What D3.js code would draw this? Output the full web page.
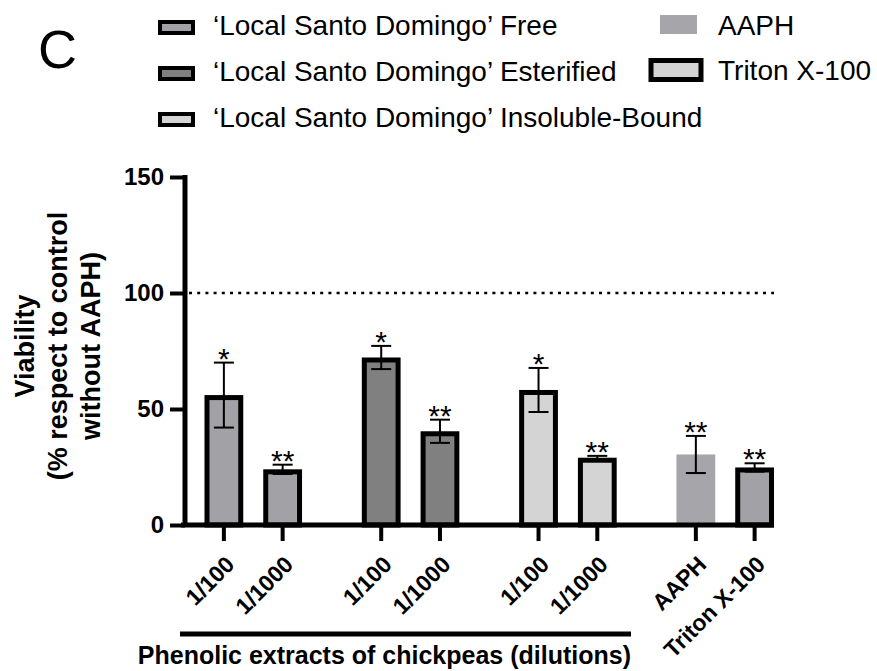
<!DOCTYPE html>
<html>
<head>
<meta charset="utf-8">
<script src="https://cdn.jsdelivr.net/npm/d3@7"></script>
<style>
  body { margin: 0; background: #fff; }
  text { font-family: "Liberation Sans", Arial, Helvetica, sans-serif; }
</style>
</head>
<body>
<div id="chart"></div>
<script>
// data
var groups = ["Free", "Esterified", "Insoluble-Bound", "Controls"];
var slots = ["a", "b"];
var barLabels = ["1/100", "1/1000", "1/100", "1/1000", "1/100", "1/1000", "AAPH", "Triton X-100"];
var barGroup = ["Free", "Free", "Esterified", "Esterified", "Insoluble-Bound", "Insoluble-Bound", "Controls", "Controls"];
var barSlot = ["a", "b", "a", "b", "a", "b", "a", "b"];
var viability = [56, 24, 72.2, 40.4, 58.2, 29, 30.4, 24.8];
var errorSD = [14, 2, 5, 5, 9.5, 0.8, 8, 1.8];
var signif = ["*", "**", "*", "**", "*", "**", "**", "**"];
var yTickValues = [0, 50, 100, 150];
var legendLeft = ["\u2018Local Santo Domingo\u2019 Free", "\u2018Local Santo Domingo\u2019 Esterified", "\u2018Local Santo Domingo\u2019 Insoluble-Bound"];
var legendRight = ["AAPH", "Triton X-100"];
var yTitle = ["Viability", "(% respect to control", "without AAPH)"];

// colours
var fills = ["#a2a2a6", "#a2a2a6", "#808080", "#808080", "#d4d4d4", "#d4d4d4", "#a6a6aa", "#a2a2a6"];
var outlined = [true, true, true, true, true, true, false, true];
var legendLeftFill = ["#a2a2a6", "#808080", "#d4d4d4"];
var legendRightFill = ["#a6a6aa", "#d4d4d4"];

var width = 877, height = 671;
var svg = d3.select("#chart").append("svg")
    .attr("width", width)
    .attr("height", height);

var axisX = 185;     // y axis position
var y = d3.scaleLinear().domain([0, 150]).range([525, 177]);

// group scale and slot scale inside each group
var x0 = d3.scaleBand().domain(groups).range([194.5, 784]).paddingInner(0.253).paddingOuter(0);
var x1 = d3.scaleBand().domain(slots).range([0, x0.bandwidth()]).paddingInner(0.34).paddingOuter(0.17);
var bw = x1.bandwidth();
var sw = 5; // bar outline width

var bars = barLabels.map(function(d, i) {
    return {
        label: d, v: viability[i], e: errorSD[i], s: signif[i],
        fill: fills[i], outline: outlined[i],
        x: x0(barGroup[i]) + x1(barSlot[i])
    };
});

// dotted reference line at 100
svg.append("line")
    .attr("x1", axisX + 4).attr("x2", bars[7].x + bw)
    .attr("y1", y(100)).attr("y2", y(100))
    .attr("stroke", "#000")
    .attr("stroke-width", 2.5)
    .attr("stroke-dasharray", "3,5.2");

// bars
svg.selectAll(".bar")
    .data(bars)
    .enter()
    .append("rect")
    .attr("class", "bar")
    .attr("x", function(d) { return d.outline ? d.x + sw / 2 : d.x; })
    .attr("y", function(d) { return d.outline ? y(d.v) + sw / 2 : y(d.v); })
    .attr("width", function(d) { return d.outline ? bw - sw : bw; })
    .attr("height", function(d) { return y(0) - y(d.v) - (d.outline ? sw / 2 : 0); })
    .attr("fill", function(d) { return d.fill; })
    .attr("stroke", function(d) { return d.outline ? "#000" : "none"; })
    .attr("stroke-width", sw);

// error bars
var eb = svg.selectAll(".err")
    .data(bars)
    .enter()
    .append("g")
    .attr("class", "err")
    .attr("stroke", "#000")
    .attr("stroke-width", 2);

eb.append("line")
    .attr("x1", function(d) { return d.x + bw / 2; })
    .attr("x2", function(d) { return d.x + bw / 2; })
    .attr("y1", function(d) { return y(d.v + d.e); })
    .attr("y2", function(d) { return y(d.v - d.e); });

eb.append("line")
    .attr("x1", function(d) { return d.x + bw / 2 - 10; })
    .attr("x2", function(d) { return d.x + bw / 2 + 10; })
    .attr("y1", function(d) { return y(d.v + d.e); })
    .attr("y2", function(d) { return y(d.v + d.e); });

eb.append("line")
    .attr("x1", function(d) { return d.x + bw / 2 - 10; })
    .attr("x2", function(d) { return d.x + bw / 2 + 10; })
    .attr("y1", function(d) { return y(d.v - d.e); })
    .attr("y2", function(d) { return y(d.v - d.e); });

// significance stars
svg.selectAll(".star")
    .data(bars)
    .enter()
    .append("text")
    .attr("class", "star")
    .attr("x", function(d) { return d.x + bw / 2; })
    .attr("y", function(d) { return y(d.v + d.e) + 6; })
    .attr("text-anchor", "middle")
    .style("font-size", "30px")
    .text(function(d) { return d.s; });

// y axis
var yAxis = d3.axisLeft(y)
    .tickValues(yTickValues)
    .tickSize(15)
    .tickPadding(6)
    .tickFormat(d3.format("d"));

var gy = svg.append("g")
    .attr("transform", "translate(" + axisX + ",0)")
    .call(yAxis);
gy.select(".domain").remove();
gy.selectAll(".tick line").attr("stroke", "#000").attr("stroke-width", 4);
gy.selectAll(".tick text")
    .style("font-size", "24px")
    .style("font-weight", "bold")
    .attr("fill", "#000");
gy.append("line")
    .attr("x1", 0).attr("x2", 0)
    .attr("y1", y(150) - 2).attr("y2", y(0) + 2)
    .attr("stroke", "#000")
    .attr("stroke-width", 5);

// x axis
svg.append("line")
    .attr("x1", axisX - 4).attr("x2", bars[7].x + bw)
    .attr("y1", y(0)).attr("y2", y(0))
    .attr("stroke", "#000")
    .attr("stroke-width", 5);

svg.selectAll(".xtick")
    .data(bars)
    .enter()
    .append("line")
    .attr("class", "xtick")
    .attr("x1", function(d) { return d.x + bw / 2; })
    .attr("x2", function(d) { return d.x + bw / 2; })
    .attr("y1", y(0))
    .attr("y2", y(0) + 16)
    .attr("stroke", "#000")
    .attr("stroke-width", 4);

svg.selectAll(".xlabel")
    .data(bars)
    .enter()
    .append("text")
    .attr("class", "xlabel")
    .attr("transform", function(d) {
        return "translate(" + (d.x + bw / 2 + 12) + "," + (y(0) + 41) + ") rotate(-45)";
    })
    .attr("text-anchor", "end")
    .style("font-size", "23px")
    .style("font-weight", "bold")
    .text(function(d) { return d.label; });

// bracket under the extract groups
svg.append("line")
    .attr("x1", 180).attr("x2", 631)
    .attr("y1", 634).attr("y2", 634)
    .attr("stroke", "#000")
    .attr("stroke-width", 5);

svg.append("text")
    .attr("x", 631)
    .attr("y", 664)
    .attr("text-anchor", "end")
    .style("font-size", "25px")
    .style("font-weight", "bold")
    .text("Phenolic extracts of chickpeas (dilutions)");

// y axis title
svg.selectAll(".ytitle")
    .data(yTitle)
    .enter()
    .append("text")
    .attr("class", "ytitle")
    .attr("transform", function(d, i) {
        return "translate(" + (34 + i * 33) + ",346) rotate(-90)";
    })
    .attr("text-anchor", "middle")
    .style("font-size", "27px")
    .style("font-weight", "bold")
    .text(function(d) { return d; });

// panel letter
svg.append("text")
    .attr("x", 38)
    .attr("y", 68)
    .style("font-size", "54px")
    .text("C");

// legend, left column
var legL = svg.selectAll(".legL")
    .data(legendLeft)
    .enter()
    .append("g")
    .attr("class", "legL")
    .attr("transform", function(d, i) { return "translate(158," + (27.5 + i * 46) + ")"; });

legL.append("rect")
    .attr("x", 2).attr("y", -5.5)
    .attr("width", 33).attr("height", 11)
    .attr("fill", function(d, i) { return legendLeftFill[i]; })
    .attr("stroke", "#000")
    .attr("stroke-width", 4);

legL.append("text")
    .attr("x", 55)
    .attr("y", 7.5)
    .style("font-size", "28px")
    .text(function(d) { return d; });

// legend, right column
svg.append("rect")
    .attr("x", 660).attr("y", 15)
    .attr("width", 37).attr("height", 19)
    .attr("fill", legendRightFill[0]);

svg.append("rect")
    .attr("x", 651).attr("y", 60.5)
    .attr("width", 50).attr("height", 19)
    .attr("fill", legendRightFill[1])
    .attr("stroke", "#000")
    .attr("stroke-width", 5);

svg.selectAll(".legR")
    .data(legendRight)
    .enter()
    .append("text")
    .attr("class", "legR")
    .attr("x", 718)
    .attr("y", function(d, i) { return 35 + i * 45; })
    .style("font-size", "28px")
    .text(function(d) { return d; });
</script>
</body>
</html>
